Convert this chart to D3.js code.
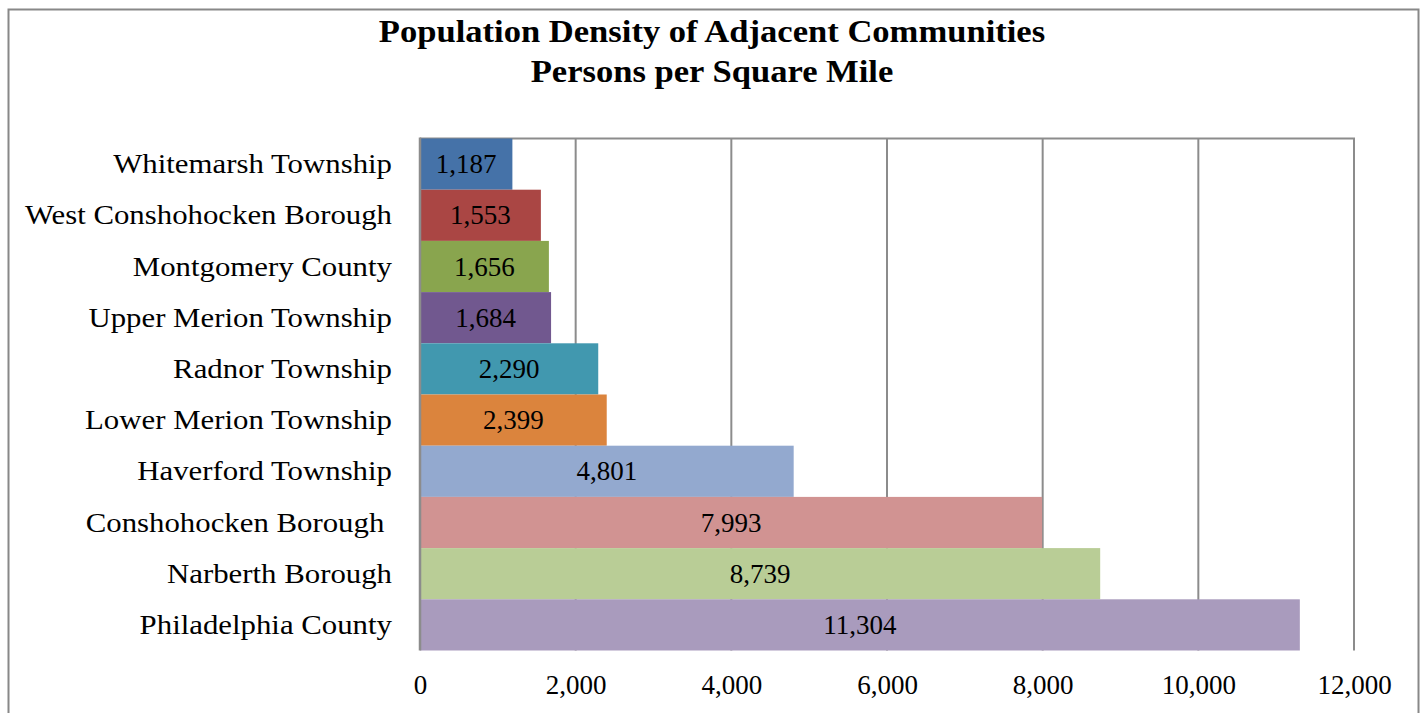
<!DOCTYPE html>
<html>
<head>
<meta charset="utf-8">
<script src="https://cdn.jsdelivr.net/npm/d3@7"></script>
<style>
  html, body { margin: 0; padding: 0; background: #fff; }
  svg { display: block; }
  text { font-family: "Liberation Serif", "DejaVu Serif", serif; fill: #000; }
</style>
</head>
<body>
<svg id="chart" width="1426" height="713"></svg>
<script>
const categories = [
  "Whitemarsh Township",
  "West Conshohocken Borough",
  "Montgomery County",
  "Upper Merion Township",
  "Radnor Township",
  "Lower Merion Township",
  "Haverford Township",
  "Conshohocken Borough ",
  "Narberth Borough",
  "Philadelphia County"
];
const values = [1187, 1553, 1656, 1684, 2290, 2399, 4801, 7993, 8739, 11304];
const barColors = ["#4572A8", "#AA4644", "#89A54E", "#71588F", "#4198AF", "#DB843D", "#93A9CF", "#D19392", "#B9CD96", "#A99BBD"];
const xTicks = [0, 2000, 4000, 6000, 8000, 10000, 12000];
const titleLines = ["Population Density of Adjacent Communities", "Persons per Square Mile"];

const svg = d3.select("#chart");
const plot = { left: 420, right: 1354, top: 138.5, bottom: 650.5 };

// widen a text run horizontally (the reference face is wider than the installed serif)
function stretch(sel, factor) {
  sel.each(function () {
    const n = this.getComputedTextLength();
    d3.select(this).attr("textLength", n * factor).attr("lengthAdjust", "spacingAndGlyphs");
  });
}

// outer frame
svg.append("rect")
  .attr("x", 8.5).attr("y", 9.5).attr("width", 1410).attr("height", 720)
  .attr("fill", "#fff").attr("stroke", "#888").attr("stroke-width", 2);

const x = d3.scaleLinear().domain([0, 12000]).range([plot.left, plot.right]);
const y = d3.scaleBand().domain(categories).range([plot.top, plot.bottom]).padding(0);
const fmt = d3.format(",");

// gridlines
svg.append("g").selectAll("line").data(xTicks.slice(1)).join("line")
  .attr("x1", d => x(d)).attr("x2", d => x(d))
  .attr("y1", plot.top).attr("y2", plot.bottom)
  .attr("stroke", "#8c8c8c").attr("stroke-width", 2);

// top border
svg.append("line")
  .attr("x1", plot.left).attr("x2", plot.right + 1)
  .attr("y1", plot.top).attr("y2", plot.top)
  .attr("stroke", "#8c8c8c").attr("stroke-width", 2);

// bars
svg.append("g").selectAll("rect").data(values).join("rect")
  .attr("x", x(0))
  .attr("y", (d, i) => y(categories[i]))
  .attr("width", d => x(d) - x(0))
  .attr("height", y.bandwidth())
  .attr("fill", (d, i) => barColors[i]);

// left axis line
svg.append("line")
  .attr("x1", plot.left).attr("x2", plot.left)
  .attr("y1", plot.top - 1).attr("y2", plot.bottom)
  .attr("stroke", "#8c8c8c").attr("stroke-width", 2.5);

// value labels
svg.append("g").selectAll("text").data(values).join("text")
  .attr("x", d => (x(d) + x(0)) / 2)
  .attr("y", (d, i) => y(categories[i]) + y.bandwidth() / 2 + 9)
  .attr("text-anchor", "middle")
  .attr("font-size", 27)
  .text(d => fmt(d));

// category labels
const catLabels = svg.append("g").selectAll("text").data(categories).join("text")
  .attr("x", plot.left - 28)
  .attr("y", d => y(d) + y.bandwidth() / 2 + 9)
  .attr("text-anchor", "end")
  .attr("font-size", 28)
  .attr("xml:space", "preserve")
  .text(d => d);
stretch(catLabels, 1.10);

// x tick labels
const xAxis = d3.axisBottom(x).tickValues(xTicks).tickFormat(fmt).tickSize(0).tickPadding(0);
const xg = svg.append("g").attr("transform", `translate(0,${plot.bottom})`).call(xAxis);
xg.select(".domain").remove();
xg.selectAll("text")
  .attr("dy", null).attr("y", 43)
  .attr("font-size", 27)
  .style("font-family", '"Liberation Serif", "DejaVu Serif", serif')
  .style("fill", "#000");
xg.attr("font-family", null).attr("font-size", null);

// title
const title = svg.append("g").selectAll("text").data(titleLines).join("text")
  .attr("x", 712)
  .attr("y", (d, i) => 42 + i * 40)
  .attr("text-anchor", "middle")
  .attr("font-size", 31)
  .attr("font-weight", "bold")
  .text(d => d);
stretch(title, 1.115);
</script>
</body>
</html>
